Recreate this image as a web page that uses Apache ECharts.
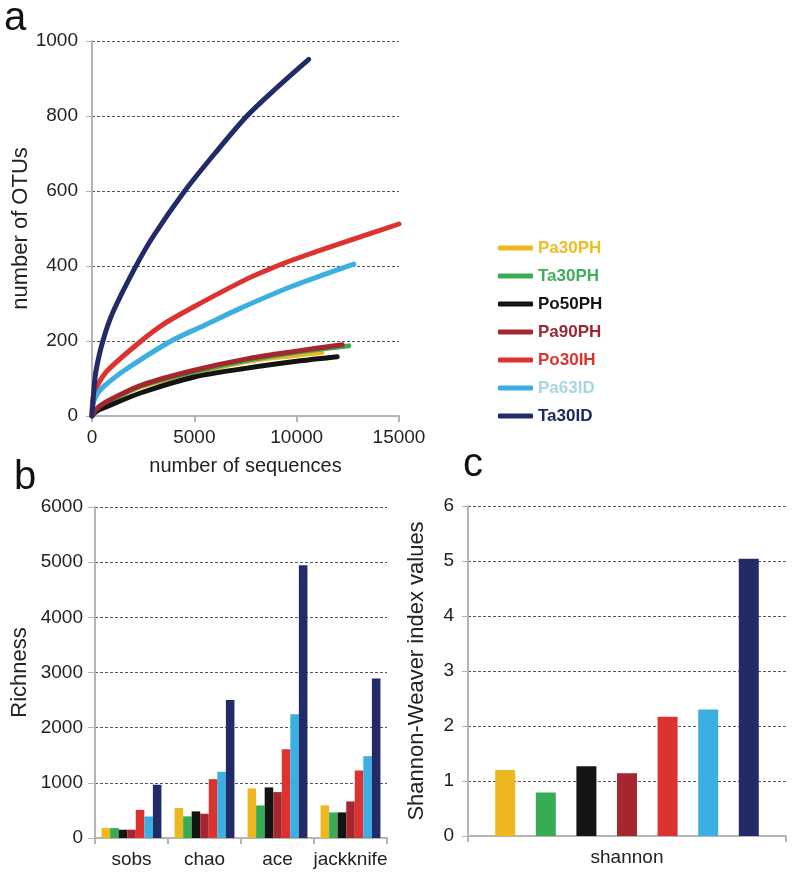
<!DOCTYPE html>
<html>
<head>
<meta charset="utf-8">
<script src="https://cdn.jsdelivr.net/npm/echarts@6/dist/echarts.min.js"></script>
<style>
  html, body { margin: 0; padding: 0; background: #fff; }
  #main { width: 792px; height: 877px; }
</style>
</head>
<body>
<div id="main"></div>
<script>
// samples, same order in every panel
const samples = ['Pa30PH', 'Ta30PH', 'Po50PH', 'Pa90PH', 'Po30IH', 'Pa63ID', 'Ta30ID'];
const lineColors = ['#EEB71E', '#38AC55', '#141414', '#A5262F', '#DC3330', '#3BAFE2', '#222A68'];
const legendTextColors = ['#F2BC22', '#3DAE5C', '#141414', '#9B2634', '#DC3330', '#A9D5E4', '#1E2660'];

// panel a : rarefaction curves [sequences, OTUs]
const curvePa30PH = [[0, 0], [200, 16], [770, 36], [2400, 78], [5000, 115], [7630, 146], [10000, 162], [11240, 169]];
const curveTa30PH = [[0, 0], [200, 17], [770, 38], [2400, 80], [5000, 118], [7630, 149], [10000, 170], [12550, 187]];
const curvePo50PH = [[0, 0], [200, 12], [770, 26], [2400, 62], [5000, 104], [7500, 127], [10000, 146], [11980, 158]];
const curvePa90PH = [[0, 0], [200, 18], [770, 40], [2400, 82], [5000, 122], [7630, 153], [10000, 173], [12230, 190]];
const curvePo30IH = [[0, 0], [60, 50], [300, 85], [770, 122], [2400, 200], [3500, 245], [5000, 292], [7630, 367], [9040, 400], [10000, 420], [12630, 469], [15000, 512]];
const curvePa63ID = [[0, 0], [60, 35], [300, 62], [600, 80], [1590, 122], [3870, 200], [5500, 242], [7240, 287], [9690, 344], [12790, 405]];
const curveTa30ID = [[0, 0], [100, 75], [200, 122], [520, 198], [1000, 274], [2100, 395], [3000, 480], [4530, 600], [6000, 700], [7570, 800], [9000, 874], [10590, 951]];
const curves = [curvePa30PH, curveTa30PH, curvePo50PH, curvePa90PH, curvePo30IH, curvePa63ID, curveTa30ID];

// panel b : richness estimators
const richnessCats = ['sobs', 'chao', 'ace', 'jackknife'];
const richPa30PH = [180, 543, 899, 591];
const richTa30PH = [180, 392, 591, 464];
const richPo50PH = [150, 482, 917, 464];
const richPa90PH = [150, 440, 832, 663];
const richPo30IH = [510, 1067, 1610, 1224];
const richPa63ID = [390, 1200, 2244, 1484];
const richTa30ID = [965, 2503, 4946, 2889];
const richness = [richPa30PH, richTa30PH, richPo50PH, richPa90PH, richPo30IH, richPa63ID, richTa30ID];

// panel c : shannon index
const shannonCats = ['shannon'];
const shannonVals = [1.2, 0.79, 1.27, 1.14, 2.17, 2.30, 5.04];

const FONT = "'Liberation Sans', Arial, sans-serif";
const axisGray = '#b4b4b4';
const splitDash = { show: true, lineStyle: { color: '#555', type: [3, 2], width: 1 } };
const plain = function (v) { return String(v); };
const tickLabel = { fontSize: 19, color: '#222', fontFamily: FONT, formatter: plain };

const chart = echarts.init(document.getElementById('main'), null, { renderer: 'canvas' });

var series = [];
for (var i = 0; i < samples.length; i++) {
  series.push({
    name: samples[i],
    type: 'line',
    xAxisIndex: 0,
    yAxisIndex: 0,
    data: curves[i],
    smooth: 0.3,
    showSymbol: false,
    symbol: 'none',
    lineStyle: { width: 5, color: lineColors[i], cap: 'round' },
    itemStyle: { color: lineColors[i] },
    z: 2 + i
  });
}
for (i = 0; i < samples.length; i++) {
  series.push({
    name: samples[i],
    type: 'bar',
    xAxisIndex: 1,
    yAxisIndex: 1,
    data: richness[i],
    barGap: 0,
    barCategoryGap: '18%',
    itemStyle: { color: lineColors[i] }
  });
}
for (i = 0; i < samples.length; i++) {
  series.push({
    name: samples[i],
    type: 'bar',
    xAxisIndex: 2,
    yAxisIndex: 2,
    data: [shannonVals[i]],
    barWidth: 20,
    barGap: '103%',
    itemStyle: { color: lineColors[i] }
  });
}

var option = {
  backgroundColor: '#fff',
  animation: false,
  textStyle: { fontFamily: FONT },
  graphic: [
    { type: 'text', style: { text: 'a', x: 4, y: 39, font: '40px ' + FONT, fill: '#111', textVerticalAlign: 'bottom' } },
    { type: 'text', style: { text: 'b', x: 14, y: 498, font: '40px ' + FONT, fill: '#111', textVerticalAlign: 'bottom' } },
    { type: 'text', style: { text: 'c', x: 463, y: 485, font: '40px ' + FONT, fill: '#111', textVerticalAlign: 'bottom' } }
  ],
  legend: {
    orient: 'vertical',
    left: 493,
    top: 234,
    itemWidth: 35,
    itemHeight: 5,
    itemGap: 10,
    icon: 'roundRect',
    selectedMode: false,
    textStyle: { fontSize: 17, fontWeight: 'bold', fontFamily: FONT, lineHeight: 18 },
    data: samples.map(function (s, k) {
      return { name: s, textStyle: { color: legendTextColors[k] } };
    })
  },
  grid: [
    { left: 92, top: 41, width: 307, height: 375 },
    { left: 95, top: 507, width: 292, height: 331 },
    { left: 468, top: 506, width: 318, height: 330 }
  ],
  xAxis: [
    {
      gridIndex: 0, type: 'value', min: 0, max: 15000, interval: 5000,
      name: 'number of sequences', nameLocation: 'middle', nameGap: 40,
      nameTextStyle: { fontSize: 20, color: '#222' },
      axisLine: { show: true, lineStyle: { color: axisGray, width: 2 } },
      axisTick: { show: true, length: 6, lineStyle: { color: axisGray, width: 2 } },
      axisLabel: Object.assign({ margin: 12 }, tickLabel),
      splitLine: { show: false }
    },
    {
      gridIndex: 1, type: 'category', data: richnessCats,
      axisLine: { show: true, lineStyle: { color: axisGray, width: 2 } },
      axisTick: { show: true, length: 6, lineStyle: { color: axisGray, width: 2 } },
      axisLabel: { margin: 12, fontSize: 19, color: '#222', fontFamily: FONT, interval: 0, hideOverlap: false }
    },
    {
      gridIndex: 2, type: 'category', data: shannonCats,
      axisLine: { show: true, lineStyle: { color: axisGray, width: 2 } },
      axisTick: { show: true, length: 6, lineStyle: { color: axisGray, width: 2 } },
      axisLabel: { margin: 12, fontSize: 19, color: '#222', fontFamily: FONT, interval: 0 }
    }
  ],
  yAxis: [
    {
      gridIndex: 0, type: 'value', min: 0, max: 1000, interval: 200,
      name: 'number of OTUs', nameLocation: 'middle', nameGap: 56,
      nameTextStyle: { fontSize: 22, color: '#222' },
      axisLine: { show: true, lineStyle: { color: axisGray, width: 2 } },
      axisTick: { show: true, length: 6, lineStyle: { color: axisGray, width: 1 } },
      axisLabel: Object.assign({ margin: 14 }, tickLabel),
      splitLine: splitDash
    },
    {
      gridIndex: 1, type: 'value', min: 0, max: 6000, interval: 1000,
      name: 'Richness', nameLocation: 'middle', nameGap: 64,
      nameTextStyle: { fontSize: 22, color: '#222' },
      axisLine: { show: true, lineStyle: { color: axisGray, width: 2 } },
      axisTick: { show: true, length: 7, lineStyle: { color: axisGray, width: 1 } },
      axisLabel: Object.assign({ margin: 12 }, tickLabel),
      splitLine: splitDash
    },
    {
      gridIndex: 2, type: 'value', min: 0, max: 6, interval: 1,
      name: 'Shannon-Weaver index values', nameLocation: 'middle', nameGap: 40,
      nameTextStyle: { fontSize: 22, color: '#222' },
      axisLine: { show: true, lineStyle: { color: axisGray, width: 2 } },
      axisTick: { show: true, length: 6, lineStyle: { color: axisGray, width: 1 } },
      axisLabel: Object.assign({ margin: 14 }, tickLabel),
      splitLine: splitDash
    }
  ],
  series: series
};

chart.setOption(option);
</script>
</body>
</html>
